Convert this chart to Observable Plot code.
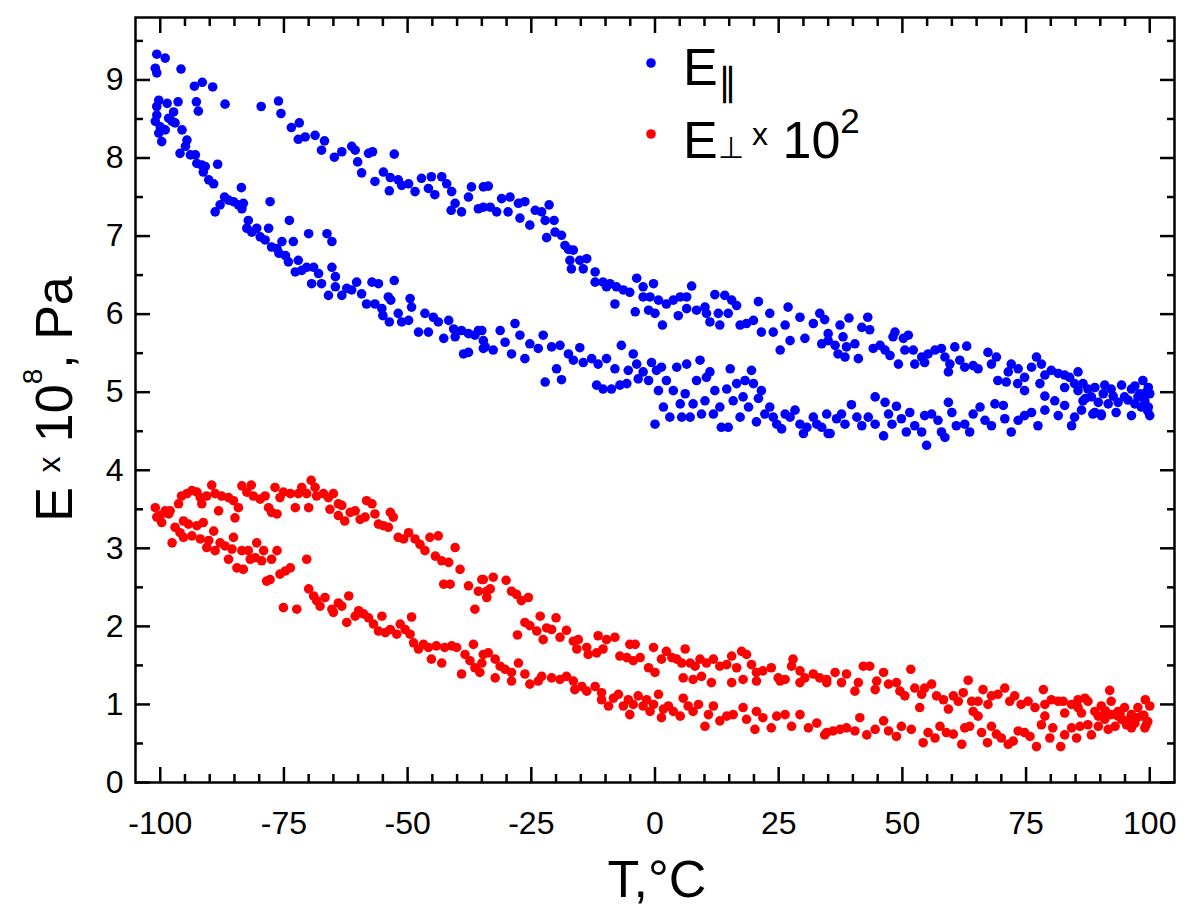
<!DOCTYPE html>
<html>
<head>
<meta charset="utf-8">
<script src="https://cdn.jsdelivr.net/npm/d3@7"></script>
<script src="https://cdn.jsdelivr.net/npm/@observablehq/plot@0.6"></script>
<style>
  html, body { margin: 0; padding: 0; background: #fff; }
  #chart { width: 1200px; height: 912px; }
</style>
</head>
<body>
<div id="chart"></div>
<script>
// ---- data: [T (°C), E] ----
const eParUpper = [
[-100.7,9.33],[-99.0,9.28],[-101,9.15],[-100.7,9.09],[-95.8,9.14],[-93.1,8.92],[-91.5,8.97],[-89.4,8.91],[-86.9,8.69],[-92.7,8.72],[-92.3,8.60],[-96.4,8.72],[-98.6,8.70],[-79.6,8.66],[-76.1,8.73],[-75.6,8.57],[-73.5,8.39],[-71.9,8.45],[-72.1,8.24],[-70.7,8.27],[-68.7,8.29],[-66.8,8.22],[-67.4,8.10],[-64.8,8.01],[-63.3,8.08],[-61.3,8.15],[-60.6,8.10],[-60.1,7.95],[-59.3,7.81],[-57.9,8.06],[-57.1,8.08],[-52.7,8.05],[-56.6,7.70],[-54.9,7.82],[-53.5,7.75],[-53.7,7.58],[-51.9,7.72],[-51.2,7.65],[-49.8,7.67],[-48.5,7.57],[-47.2,7.74],[-45.8,7.61],[-45.2,7.76],[-43.1,7.76],[-42.1,7.67],[-44.5,7.53],[-41.1,7.57],[-41.2,7.33],[-40.4,7.42],[-39.1,7.31],[-37.7,7.50],[-37.1,7.63],[-35.7,7.35],[-34.7,7.63],
[-33.7,7.64],[-34.7,7.37],[-33.3,7.37],[-32.0,7.31],[-31.0,7.48],[-29.3,7.50],[-29.7,7.31],[-27.6,7.42],[-26.3,7.44],[-27.3,7.23],[-25.3,7.14],[-24.2,7.33],[-22.9,7.31],[-21.4,7.40],[-22.2,7.20],[-20.4,7.20],[-20.2,7.05],[-21.9,6.98],[-18.9,7.01],[-18.2,6.88],[-17.5,6.83],[-16.5,6.82],[-17.2,6.69],[-15.2,6.69],[-13.8,6.71],[-16.9,6.58],[-14.5,6.58],[-12.1,6.54],[-12.1,6.41],[-10.5,6.41],[-9.1,6.39],[-9.8,6.35],[-7.8,6.35],[-6.4,6.31],[-5.1,6.28],[-3.7,6.46],[-2.4,6.35],[-2.4,6.22],[-1.0,6.22],[-0.3,6.39],[0.7,6.18],[-8.1,6.13],[-4.0,6.03],[-1.3,6.05],[0.0,6.01],[1.5,5.86],[2.3,6.13],[3.7,6.18],[5.1,6.22],[6.4,6.22],[7.4,6.36],[4.7,5.98],[6.4,6.07],[8.4,6.05],[10.1,6.09],[10.4,6.01],[12.1,6.25],[14.1,6.24],[15.5,6.18],[16.5,6.11],[11.1,5.90],[12.8,6.01],[13.1,5.86],[14.8,6.01],[17.2,5.86],[18.5,5.88],[20.9,6.16],[19.9,5.92],[21.5,5.77],[23.2,6.01],[23.9,5.77],[25.3,5.54],[26.9,6.09],[27.3,5.66],[26.3,5.86],[29.3,5.96],[30.3,5.69],[32.0,5.88],[33.3,6.01],[33.7,5.62],[35.0,5.75],
[34.3,5.93],[37.4,5.86],[39.2,5.95],[35.0,5.66],[36.4,5.60],[38.0,5.71],[37.0,5.49],[38.7,5.58],[38.4,5.45],[40.4,5.62],[41.1,5.43],[41.8,5.83],[43.0,5.96],[43.4,5.80],[44.1,5.56],[45.5,5.60],[46.5,5.54],[47.5,5.47],[48.1,5.71],[48.5,5.77],[49.2,5.36],[50.2,5.69],[51.2,5.73],[50.5,5.54],[52.2,5.54],[52.5,5.36],[53.9,5.45],[55.2,5.49],[54.5,5.38],[56.6,5.54],[57.9,5.56],[58.6,5.45],[59.6,5.36],[59.3,5.26],[60.6,5.58],[61.6,5.41],[63.0,5.59],[62.6,5.32],[64.3,5.34],[65.3,5.30],[67.3,5.51],[68.0,5.36],[69.0,5.45],[69.3,5.15],[71.0,5.13],[71.4,5.26],[72.0,5.36],[73.4,5.30],[73.3,5.11],[74.7,5.02],[74.7,5.19],[76.1,5.32],[77.1,5.45],[78.1,5.36],[77.8,5.11],[78.8,5.22],[80.1,5.28],[81.5,5.24],[82.8,5.22],[83.8,5.19],[85.5,5.26],[82.8,5.06],[84.8,5.11],[86.5,5.11],[87.5,5.04],[88.9,5.06],[90.9,5.09],[92.2,5.04],[94.3,5.09],[96.3,5.04],[98.6,5.15],[99.7,5.06],[100.0,4.98],
[97.6,4.94],[99.0,4.89],[99.7,4.81],[100,4.70],[98.3,4.81],[96.3,4.70],[97.0,4.85],[94.9,4.94],[93.2,4.74],[93.6,4.87],[91.6,4.85],[90.2,4.72],[88.9,4.74],[89.6,4.87],[88.2,4.94],
[99.3,5.00],[98.0,4.98],[95.6,4.90],[92.6,4.95],[90.6,4.98],[87.0,4.92],[85.5,5.02],[99.6,4.76],[97.0,5.08]
];
const eParLower = [
[-100.3,8.74],[-100.7,8.66],[-100.7,8.55],[-101.0,8.47],[-100,8.40],[-100.3,8.32],[-99.7,8.21],[-99.0,8.36],[-98.3,8.51],[-97.6,8.47],[-97.3,8.59],[-97.0,8.45],[-95.6,8.36],[-96.0,8.06],[-94.6,8.23],[-94.9,8.15],[-93.9,8.04],[-92.9,8.04],[-92.6,7.93],[-91.6,7.91],[-90.9,7.89],[-91.3,7.82],[-88.4,7.92],[-90.2,7.72],[-89.2,7.67],[-88.9,7.31],[-87.9,7.40],[-87.0,7.50],[-86.2,7.46],[-85.2,7.44],[-84.2,7.40],[-83.6,7.62],[-83.2,7.42],[-83.5,7.35],[-77.8,7.44],[-82.2,7.20],[-82.5,7.10],[-81.5,7.05],[-80.5,7.10],[-79.8,6.99],[-78.8,6.95],[-78.1,7.10],[-77.5,6.86],[-76.4,6.84],[-75.4,6.93],[-76.0,6.78],[-73.9,7.20],[-73.1,6.93],[-74.7,6.75],[-74.1,6.67],[-72.1,6.69],[-72.7,6.54],[-71.4,6.56],[-70.0,7.03],[-70.4,6.60],[-69.0,6.60],[-69.4,6.39],[-68.0,6.52],[-66.3,7.03],[-65.3,6.93],[-67.4,6.39],[-66.0,6.24],[-65.3,6.60],[-64.6,6.48],[-64.6,6.35],[-63.3,6.24],[-62.3,6.33],[-61.3,6.31],[-60.3,6.41],[-59.3,6.26],[-58.3,6.13],[-57.2,6.41],[-55.9,6.39],[-56.6,6.13],[-55.2,6.07],[-53.9,6.22],[-52.7,6.43],[-53.4,6.18],[-55.0,5.98],[-53.7,5.90],[-51.9,6.01],[-51.2,5.90],[-49.5,6.20],[-49.2,6.09],[-49.8,5.92],[-47.8,5.77],[-46.5,6.01],[-45.8,5.77],[-44.8,5.96],[-43.8,5.90],[-42.7,5.69],[-41.7,5.92],[-40.7,5.81],[-40.4,5.71],[-38.7,5.49],[-37.7,5.51],[-39.1,5.79],[-37.7,5.75],[-36.4,5.73],[-35.7,5.79],[-34.7,5.56],[-34.7,5.66],
[-35.0,5.79],[-34.3,5.58],[-32.7,5.54],[-31.3,5.79],[-30.3,5.64],[-29.0,5.49],[-28.3,5.88],[-27.3,5.73],[-26.3,5.43],[-25.3,5.62],[-23.6,5.56],[-22.6,5.73],[-22.2,5.13],[-20.9,5.58],[-19.2,5.60],[-19.9,5.30],[-18.9,5.16],[-17.5,5.49],[-16.5,5.41],[-15.2,5.57],[-14.5,5.38],[-12.8,5.43],[-11.8,5.09],[-11.5,5.36],[-10.5,5.04],[-9.8,5.43],[-8.8,5.04],[-8.1,5.30],[-6.8,5.60],[-7.1,5.09],[-5.7,5.11],[-5.4,5.28],[-4.4,5.49],[-3.7,5.36],[-3.4,5.17],[-2.4,5.26],[-1.3,5.15],[-0.7,5.38],[0.3,5.28],[0.0,4.59],[0.7,5.02],[1.3,5.32],[1.7,4.81],[2.3,5.15],[3.0,4.68],[3.7,5.02],[4.4,5.32],[5.1,4.85],[5.4,4.68],[6.1,4.98],[6.4,5.36],[7.1,4.68],[7.7,4.85],[8.4,5.15],[9.1,5.41],[9.4,4.72],[10.1,4.89],[10.4,5.19],[11.1,5.26],[11.8,4.72],[12.1,5.02],[13.1,4.81],[13.4,4.55],[14.5,5.04],[15.2,5.30],[14.8,4.55],[15.8,4.89],[16.5,5.11],[17.2,4.68],[17.8,4.94],[18.2,5.15],[18.9,4.81],[19.5,5.28],[19.9,5.11],[20.5,4.62],[20.9,4.92],[21.5,5.02],[22.2,4.72],[23.2,4.81],[23.9,4.68],[24.6,4.59],[25.6,4.53],[26.3,4.72],[27.3,4.68],[28.3,4.77],[29.3,4.59],[30.0,4.47],[30.7,4.55],[32.0,4.68],[32.7,4.59],[33.7,4.55],[34.7,4.72],[35.0,4.47],
[35.4,4.47],[36.7,4.66],[37.7,4.72],[38.4,4.59],[39.7,4.84],[40.8,4.68],[41.8,4.57],[43.1,4.68],[44.5,4.94],[44.5,4.59],[46.2,4.44],[46.5,4.87],[47.2,4.72],[47.9,4.59],[48.8,4.82],[49.8,4.66],[50.8,4.49],[51.5,4.74],[52.5,4.57],[53.9,4.49],[54.9,4.32],[54.5,4.70],[55.9,4.72],[57.2,4.64],[57.9,4.49],[58.6,4.42],[59.3,4.87],[60.0,4.74],[60.9,4.57],[62.6,4.59],[63.6,4.49],[64.3,4.72],[65.7,4.81],[66.7,4.64],[68.0,4.57],[68.7,4.85],[70.4,4.83],[70.7,4.66],[72.0,4.49],[73.4,4.64],[74.7,4.70],[76.1,4.74],[77.4,4.57],[78.8,4.77],[78.8,4.95],[80.8,4.89],[81.5,4.70],[82.8,4.83],[84.2,4.57],[84.8,4.68],[86.2,4.77],[86.5,4.89],[88.5,4.72],[90.2,4.70]
];
const ePerpUpper = [
[-101.0,3.52],[-100,3.42],[-100.7,3.40],[-99.0,3.48],[-98.3,3.44],[-98.0,3.48],[-96.3,3.57],[-95.7,3.67],[-94.6,3.70],[-93.6,3.74],[-92.6,3.72],[-91.6,3.57],[-91.9,3.65],[-90.6,3.67],[-89.6,3.81],[-88.9,3.70],[-88.2,3.48],[-87.6,3.67],[-86.2,3.65],[-85.2,3.61],[-84.2,3.52],[-84.9,3.39],[-83.5,3.80],[-81.6,3.81],[-82.5,3.72],[-81.2,3.67],[-79.8,3.63],[-78.8,3.67],[-78.1,3.52],[-77.5,3.46],[-76.4,3.44],[-76.8,3.78],[-75.8,3.65],[-75.1,3.72],[-73.7,3.70],[-72.7,3.52],[-72.1,3.70],[-71.4,3.78],[-69.5,3.87],[-70.0,3.52],[-70.4,3.70],[-68.7,3.78],[-68.4,3.67],[-67.0,3.70],[-66.0,3.65],[-65.0,3.70],[-65.7,3.50],[-64.0,3.57],[-63.3,3.55],[-64.0,3.42],[-62.7,3.35],[-61.6,3.46],[-60.6,3.48],[-59.6,3.37],[-58.6,3.40],[-58.3,3.61],[-57.2,3.57],[-56.6,3.44],[-55.9,3.31],[-54.9,3.29],[-53.9,3.27],[-53.5,3.46],[-52.9,3.40],[-51.9,3.14],[-50.8,3.12],[-49.8,3.20],[-48.5,3.12],[-47.5,3.05],[-46.5,2.97],[-45.5,3.14],[-43.8,3.16],[-44.4,2.90],[-43.1,2.84],[-41.7,2.82],[-40.4,3.01],[-39.4,2.73],[-42.7,2.54],[-41.4,2.54],[-37.7,2.52],[-35.7,2.45],[-35.0,2.60],[-36.4,2.22],
[-34.7,2.60],[-32.7,2.63],[-34.0,2.45],[-33.3,2.48],[-34.0,2.37],[-30.1,2.59],[-29.0,2.45],[-28.0,2.41],[-27.0,2.33],[-25.6,2.37],[-27.8,1.89],[-26.3,2.05],[-25.3,2.01],[-23.2,2.13],[-23.9,1.94],[-22.6,1.83],[-21.9,1.98],[-20.9,1.96],[-20.0,2.11],[-19.2,1.86],[-17.9,1.95],[-16.5,1.81],[-15.5,1.83],[-15.8,1.71],[-13.8,1.73],[-13.5,1.64],[-11.8,1.66],[-11.5,1.88],[-10.5,1.71],[-9.8,1.83],[-8.1,1.86],[-7.1,1.62],[-5.7,1.60],[-5.1,1.77],[-4.0,1.77],[-4.4,1.56],[-3.0,1.60],[-1.3,1.47],[0.0,1.41],[-0.3,1.73],[1.3,1.58],[2.3,1.68],[3.4,1.60],[4.4,1.58],[6.1,1.71],[5.4,1.53],[7.1,1.53],[8.1,1.49],[9.1,1.58],[10.4,1.53],[11.8,1.58],[13.1,1.49],[14.5,1.51],[15.5,1.62],[16.5,1.47],[17.5,1.68],[18.5,1.64],[19.5,1.51],[20.5,1.41],[21.8,1.43],[23.5,1.47],[24.9,1.34],[26.3,1.32],[27.9,1.58],[27.6,1.49],[29.3,1.43],[30.3,1.34],[32.0,1.39],[33.3,1.34],[34.7,1.28],[29.3,1.28],[20.5,1.30],[17.8,1.32],[15.5,1.28],[11.4,1.28],[9.4,1.36],[7.7,1.32],[5.7,1.34],[25.3,1.30],
[34.7,1.32],[36.4,1.41],[37.7,1.28],[38.7,1.39],[40.4,1.17],[41.1,1.28],[42.1,1.49],[43.4,1.49],[44.5,1.19],[44.8,1.30],[46.2,1.41],[47.2,1.26],[48.8,1.28],[49.5,1.17],[50.5,1.11],[51.7,1.45],[52.5,1.21],[53.5,0.96],[53.9,1.13],[54.5,1.21],[55.9,1.26],[56.9,1.11],[58.3,1.06],[59.3,0.94],[60.3,1.11],[61.3,1.04],[62.3,1.15],[63.3,1.31],[64.0,1.04],[65.3,1.04],[66.3,1.19],[67.3,1.00],[68.0,1.11],[69.3,1.13],[70.7,1.21],[71.7,1.04],[72.7,1.11],[74.0,1.00],[75.4,1.04],[76.8,0.96],[78.5,1.19],[78.8,1.00],[80.1,1.06],[81.5,1.04],[82.5,1.04],[82.8,0.89],[84.2,1.00],[85.5,1.06],[86.9,1.08],[87.5,1.04],[86.2,0.89],[88.9,0.91],[90.2,0.98],[91.9,1.18],[92.2,1.04],[93.6,0.91],[94.9,0.96],[96.3,0.87],[97.6,0.96],[99.1,1.06],[100,0.98],
[95.6,0.80],[97.0,0.76],[98.8,0.86],[99.6,0.78],[94.0,0.88],[91.0,0.92],[99.0,0.70]
];
const ePerpLower = [
[-99.7,3.33],[-97.6,3.07],[-97.0,3.27],[-96.0,3.20],[-95.3,3.35],[-95.3,3.14],[-94.3,3.31],[-93.6,3.16],[-92.6,3.29],[-91.9,3.12],[-91.3,3.33],[-90.6,3.01],[-90.2,3.10],[-89.2,3.22],[-88.9,2.97],[-87.9,3.07],[-86.9,3.03],[-86.2,2.86],[-85.5,2.99],[-85.2,3.14],[-84.5,2.75],[-83.5,2.97],[-83.2,2.73],[-82.2,2.97],[-81.8,2.86],[-80.5,3.07],[-80.8,2.88],[-79.5,2.84],[-79.1,2.97],[-77.5,2.86],[-76.4,2.97],[-78.5,2.58],[-77.8,2.60],[-75.8,2.67],[-74.7,2.71],[-73.7,2.75],[-70.4,2.86],[-75.1,2.24],[-72.4,2.22],[-70.0,2.48],[-69.0,2.39],[-68.4,2.33],[-67.7,2.26],[-66.7,2.37],[-65.3,2.22],[-65.0,2.18],[-64.0,2.30],[-63.3,2.26],[-61.9,2.39],[-62.3,2.05],[-60.6,2.13],[-59.9,2.20],[-58.9,2.16],[-57.9,2.11],[-56.9,2.03],[-55.9,1.94],[-55.2,2.13],[-54.5,1.92],[-53.5,1.96],[-52.2,1.90],[-51.5,2.03],[-50.5,1.96],[-49.5,1.90],[-49.2,2.12],[-48.8,1.79],[-47.8,1.71],[-46.8,1.77],[-45.8,1.73],[-45.2,1.58],[-44.2,1.75],[-43.1,1.53],[-42.5,1.73],[-41.1,1.75],[-40.1,1.73],[-39.1,1.39],[-38.4,1.64],[-37.4,1.56],[-36.7,1.77],[-36.4,1.47],[-35.4,1.41],[-34.7,1.64],
[-33.7,1.66],[-35.0,1.53],[-32.3,1.58],[-32.3,1.34],[-31.3,1.49],[-30.3,1.45],[-29.0,1.41],[-29.0,1.30],[-27.6,1.53],[-26.3,1.39],[-25.3,1.26],[-23.6,1.30],[-22.9,1.36],[-20.9,1.34],[-19.2,1.32],[-17.9,1.36],[-16.5,1.30],[-16.2,1.19],[-14.8,1.23],[-13.8,1.17],[-12.1,1.23],[-10.8,1.15],[-10.8,1.06],[-9.4,0.98],[-8.4,1.08],[-7.4,1.13],[-6.4,0.98],[-5.4,1.06],[-5.1,0.87],[-4.4,1.00],[-3.4,1.11],[-2.4,0.98],[-1.7,1.06],[-1.0,0.91],[-0.3,1.00],[0.7,1.13],[1.3,0.83],[1.7,0.94],[2.7,0.98],[3.7,0.91],[5.1,0.85],[5.7,1.08],[6.7,0.98],[7.7,0.91],[8.8,1.00],[10.1,0.72],[10.8,0.87],[11.8,0.98],[13.1,0.79],[14.5,0.85],[15.8,0.87],[17.8,0.96],[18.5,0.81],[20.2,0.68],[20.5,0.91],[21.8,0.83],[23.5,0.70],[24.6,0.85],[26.3,0.87],[27.6,0.72],[29.3,0.87],[31.0,0.70],[32.7,0.76],[34.3,0.61],
[34.7,0.64],[36.0,0.66],[37.4,0.68],[38.7,0.70],[40.4,0.66],[41.4,0.83],[42.8,0.61],[44.5,0.68],[46.2,0.79],[47.2,0.66],[48.8,0.59],[49.8,0.72],[51.8,0.68],[54.2,0.51],[55.2,0.64],[56.6,0.57],[57.6,0.72],[58.9,0.64],[60.3,0.62],[62.0,0.49],[62.6,0.70],[63.6,0.72],[64.3,0.91],[65.3,0.85],[66.0,0.64],[67.2,0.51],[68.0,0.72],[69.0,0.62],[70.0,0.57],[71.4,0.49],[72.4,0.53],[73.4,0.66],[74.7,0.64],[75.8,0.59],[77.1,0.46],[78.1,0.74],[78.8,0.85],[79.8,0.57],[80.4,0.70],[82.0,0.46],[82.8,0.61],[84.2,0.70],[85.2,0.57],[85.9,0.72],[87.5,0.74],[88.2,0.61],[89.6,0.72],[90.9,0.81],[91.6,0.68],[93.0,0.72],[94.3,0.81],[95.3,0.74],[96.3,0.70],[97.3,0.83],[98.3,0.85],[99.3,0.74],[92.2,0.87],[93.6,0.85],[89.6,0.85],[85.5,0.96]
];
const xMajor = [-100, -75, -50, -25, 0, 25, 50, 75, 100];
const xMinor = [-95, -90, -85, -80, -70, -65, -60, -55, -45, -40, -35, -30, -20, -15, -10, -5, 5, 10, 15, 20, 30, 35, 40, 45, 55, 60, 65, 70, 80, 85, 90, 95];
const yMajor = [0, 1, 2, 3, 4, 5, 6, 7, 8, 9];
const yMinor = [0.5, 1.5, 2.5, 3.5, 4.5, 5.5, 6.5, 7.5, 8.5, 9.5];

const toRows = arr => arr.map(([T, E]) => ({T, E}));
const parRows = toRows(eParUpper.concat(eParLower));
const perpRows = toRows(ePerpUpper.concat(ePerpLower));

const BLUE = "#0000ff", RED = "#ff0000";
const tickW = 2.5;
const DOT_R = 4.8;

const chart = Plot.plot({
  width: 1200, height: 912,
  marginLeft: 135, marginRight: 26, marginTop: 17, marginBottom: 130,
  x: {domain: [-105, 105]},
  y: {domain: [0, 9.8]},
  style: {fontFamily: "'Liberation Sans', Arial, sans-serif", background: "#fff", color: "#000"},
  marks: [
    Plot.dot(parRows, {x: "T", y: "E", r: DOT_R, fill: BLUE}),
    Plot.dot(perpRows, {x: "T", y: "E", r: DOT_R, fill: RED}),
    // inward ticks on all four sides
    Plot.axisX(xMajor, {anchor: "bottom", tickSize: -15, strokeWidth: tickW, fill: "none", label: null}),
    Plot.axisX(xMinor, {anchor: "bottom", tickSize: -8, strokeWidth: tickW, fill: "none", label: null}),
    Plot.axisX(xMajor, {anchor: "top", tickSize: -15, strokeWidth: tickW, fill: "none", label: null}),
    Plot.axisX(xMinor, {anchor: "top", tickSize: -8, strokeWidth: tickW, fill: "none", label: null}),
    Plot.axisY(yMajor, {anchor: "left", tickSize: -15, strokeWidth: tickW, fill: "none", label: null}),
    Plot.axisY(yMinor, {anchor: "left", tickSize: -8, strokeWidth: tickW, fill: "none", label: null}),
    Plot.axisY(yMajor, {anchor: "right", tickSize: -15, strokeWidth: tickW, fill: "none", label: null}),
    Plot.axisY(yMinor, {anchor: "right", tickSize: -8, strokeWidth: tickW, fill: "none", label: null}),
    // tick labels
    Plot.axisX(xMajor, {anchor: "bottom", tickSize: 0, tickPadding: 29, fontSize: 32, tickFormat: d => String(d), label: null}),
    Plot.axisY(yMajor, {anchor: "left", tickSize: 0, tickPadding: 12, fontSize: 32, tickFormat: d => String(d), label: null}),
    Plot.frame({stroke: "#000", strokeWidth: 2.5})
  ]
});

document.getElementById("chart").appendChild(chart);

// ---- titles and legend (rich text) ----
const svg = d3.select(chart);
const FF = "'Liberation Sans', Arial, sans-serif";

svg.append("text")
  .attr("x", 657).attr("y", 897)
  .attr("text-anchor", "middle").attr("font-family", FF).attr("font-size", 52).attr("fill", "#000")
  .text("T,°C");

const yt = svg.append("text")
  .attr("transform", "translate(72,399) rotate(-90)")
  .attr("text-anchor", "middle").attr("font-family", FF).attr("font-size", 52).attr("fill", "#000");
yt.append("tspan").text("E ");
yt.append("tspan").attr("font-size", 32).attr("dy", -12).text("x");
yt.append("tspan").attr("dy", 12).text(" 10");
yt.append("tspan").attr("font-size", 28).attr("dy", -30).text("8");
yt.append("tspan").attr("dy", 30).text(", Pa");

// legend
svg.append("circle").attr("cx", 651).attr("cy", 63).attr("r", DOT_R).attr("fill", BLUE);
svg.append("circle").attr("cx", 651).attr("cy", 134).attr("r", DOT_R).attr("fill", RED);

const l1 = svg.append("text").attr("x", 683).attr("y", 85).attr("text-anchor", "start")
  .attr("font-family", FF).attr("font-size", 52).attr("fill", "#000");
l1.append("tspan").text("E");
l1.append("tspan").attr("font-size", 38).attr("dy", 10).text("∥");

const l2 = svg.append("text").attr("x", 683).attr("y", 158).attr("text-anchor", "start")
  .attr("font-family", FF).attr("font-size", 52).attr("fill", "#000");
l2.append("tspan").text("E");
l2.append("tspan").attr("font-size", 30).text("⊥ ");
l2.append("tspan").attr("font-size", 32).attr("dy", -13).text("x");
l2.append("tspan").attr("dy", 13).text(" 10");
l2.append("tspan").attr("font-size", 35).attr("dy", -25).text("2");
</script>
</body>
</html>
